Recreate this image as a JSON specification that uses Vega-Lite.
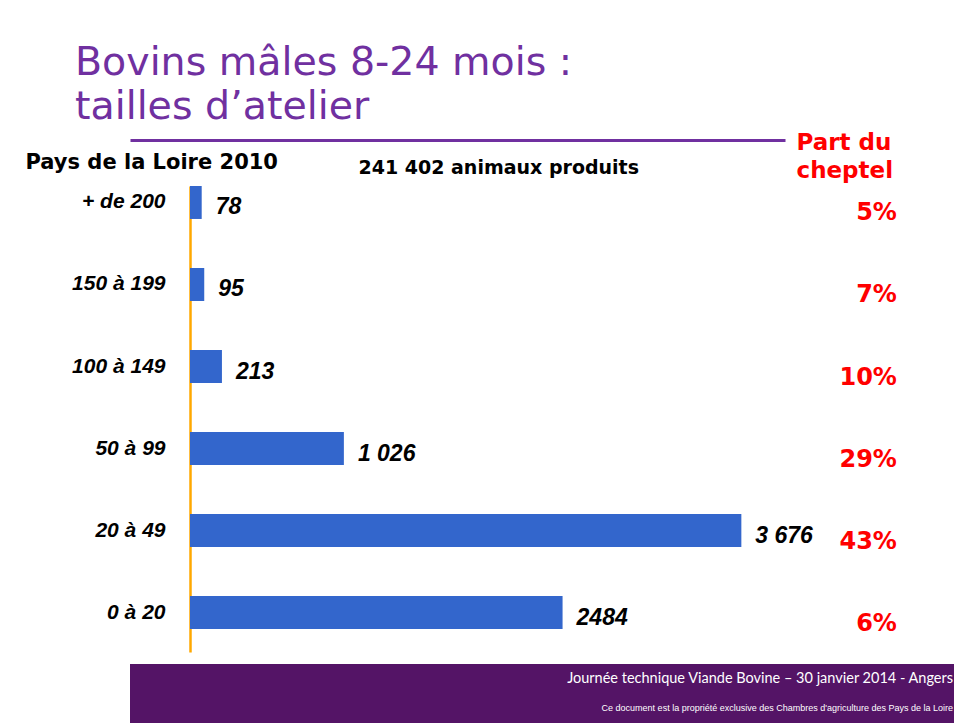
{
  "$schema": "https://vega.github.io/schema/vega-lite/v6.json",
  "background": "white",
  "padding": {"left": 25, "top": 42, "right": 0, "bottom": 0},
  "title": {
    "text": ["Bovins mâles 8-24 mois :", "tailles d’atelier"],
    "anchor": "start",
    "frame": "bounds",
    "dx": 50,
    "font": "DejaVu Sans",
    "fontSize": 39.5,
    "fontWeight": "normal",
    "color": "#7030A0",
    "lineHeight": 44,
    "offset": 4
  },
  "spacing": 12,
  "config": {"view": {"stroke": null}, "axis": {"grid": false}},
  "vconcat": [
    {
      "width": 655,
      "height": 466,
      "data": {
        "values": [
          {"cat": "+ de 200", "value": 78, "label": "78", "pct": "5%"},
          {"cat": "150 à 199", "value": 95, "label": "95", "pct": "7%"},
          {"cat": "100 à 149", "value": 213, "label": "213", "pct": "10%"},
          {"cat": "50 à 99", "value": 1026, "label": "1 026", "pct": "29%"},
          {"cat": "20 à 49", "value": 3676, "label": "3 676", "pct": "43%"},
          {"cat": "0 à 20", "value": 2484, "label": "2484", "pct": "6%"}
        ]
      },
      "layer": [
        {
          "layer": [
            {
              "mark": {"type": "bar", "color": "#3366CC"},
              "encoding": {
                "x": {
                  "field": "value",
                  "type": "quantitative",
                  "scale": {"domain": [-400, 3967], "nice": false},
                  "axis": {
                    "orient": "top",
                    "offset": 46,
                    "domainColor": "#7030A0",
                    "domainWidth": 3,
                    "labels": false,
                    "ticks": false,
                    "grid": false,
                    "title": "241 402 animaux produits",
                    "titleFont": "DejaVu Sans",
                    "titleFontSize": 19,
                    "titleFontWeight": "bold",
                    "titleColor": "#000000",
                    "titleAlign": "left",
                    "titleAnchor": "start",
                    "titleBaseline": "alphabetic",
                    "titleX": 228,
                    "titleY": 33
                  }
                },
                "y": {
                  "field": "cat",
                  "type": "nominal",
                  "sort": null,
                  "scale": {"type": "band", "paddingInner": 0.598, "paddingOuter": 0.14, "align": 0},
                  "axis": {
                    "orient": "left",
                    "offset": -60,
                    "domainColor": "#FFA800",
                    "domainWidth": 2.5,
                    "ticks": false,
                    "labelPadding": 25,
                    "labelFont": "Liberation Sans",
                    "labelFontSize": 21,
                    "labelFontStyle": "italic",
                    "labelFontWeight": "bold",
                    "labelColor": "#000000",
                    "title": "Pays de la Loire 2010",
                    "titleFont": "DejaVu Sans",
                    "titleFontSize": 21,
                    "titleFontWeight": "bold",
                    "titleColor": "#000000",
                    "titleAngle": 0,
                    "titleAlign": "left",
                    "titleBaseline": "alphabetic",
                    "titleX": -165,
                    "titleY": -18
                  }
                }
              }
            },
            {
              "mark": {
                "type": "text",
                "align": "left",
                "baseline": "middle",
                "dx": 14,
                "dy": 5,
                "font": "Liberation Sans",
                "fontSize": 23,
                "fontStyle": "italic",
                "fontWeight": "bold",
                "color": "#000000"
              },
              "encoding": {
                "x": {"field": "value", "type": "quantitative"},
                "y": {"field": "cat", "type": "nominal", "sort": null},
                "text": {"field": "label"}
              }
            }
          ]
        },
        {
          "mark": {
            "type": "text",
            "align": "right",
            "baseline": "alphabetic",
            "dy": 18,
            "font": "DejaVu Sans",
            "fontSize": 24,
            "fontWeight": "bold",
            "color": "#FF0000"
          },
          "encoding": {
            "x": {"datum": 4713, "type": "quantitative"},
            "y": {
              "field": "cat",
              "type": "nominal",
              "sort": null,
              "scale": {"type": "band", "paddingInner": 0.598, "paddingOuter": 0.14, "align": 0},
              "axis": {
                "orient": "right",
                "domain": false,
                "ticks": false,
                "labels": false,
                "grid": false,
                "title": ["Part du", "cheptel"],
                "titleFont": "DejaVu Sans",
                "titleFontSize": 23,
                "titleFontWeight": "bold",
                "titleColor": "#FF0000",
                "titleAngle": 0,
                "titleAlign": "left",
                "titleBaseline": "alphabetic",
                "titleX": 11,
                "titleY": -37,
                "titleLineHeight": 28
              }
            },
            "text": {"field": "pct"}
          }
        }
      ],
      "resolve": {"scale": {"y": "independent"}}
    },
    {
      "width": 824,
      "height": 59,
      "view": {"fill": "#541466", "stroke": null},
      "data": {
        "values": [
          {"line": 1, "text": "Journée technique Viande Bovine – 30 janvier 2014 - Angers"},
          {"line": 2, "text": "Ce document est la propriété exclusive des Chambres d'agriculture des Pays de la Loire"}
        ]
      },
      "encoding": {
        "y": {"field": "line", "type": "ordinal", "axis": null},
        "text": {"field": "text"}
      },
      "layer": [
        {
          "transform": [{"filter": "datum.line == 1"}],
          "mark": {"type": "text", "align": "right", "baseline": "middle", "x": "width", "dx": -1, "font": "Lato", "fontSize": 14.5, "color": "white"}
        },
        {
          "transform": [{"filter": "datum.line == 2"}],
          "mark": {"type": "text", "align": "right", "baseline": "middle", "x": "width", "dx": -1, "font": "Liberation Sans", "fontSize": 9, "color": "white"}
        }
      ]
    }
  ]
}
